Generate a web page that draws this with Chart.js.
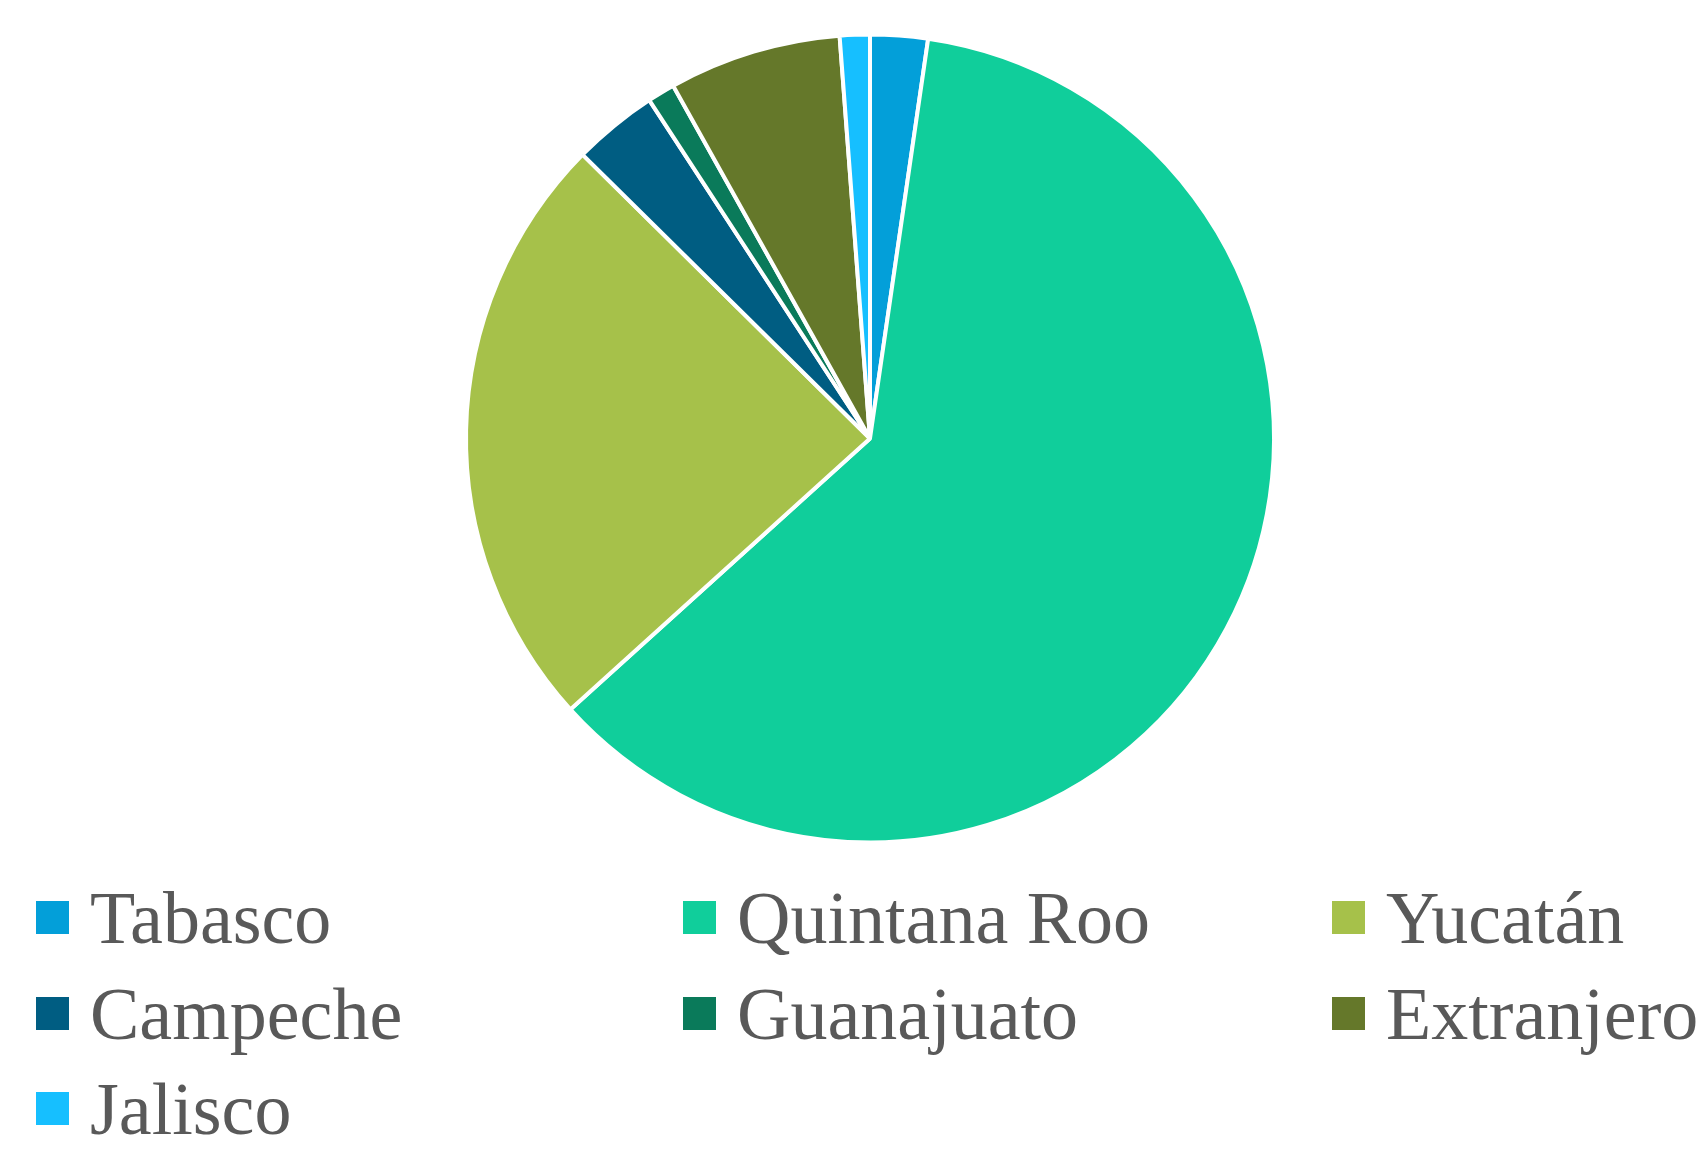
<!DOCTYPE html>
<html>
<head>
<meta charset="utf-8">
<script src="https://cdn.jsdelivr.net/npm/chart.js@4.4.1/dist/chart.umd.min.js"></script>
<style>
  html, body { margin:0; padding:0; background:#fff; }
  body { width:1708px; height:1152px; position:relative; overflow:hidden; }
  #wrap { position:absolute; left:0; top:0; width:1708px; height:880px; }
  #legend { position:absolute; left:36px; top:882px; width:1672px;
    display:grid; grid-template-columns:647px 649px 376px; grid-auto-rows:95.5px; }
  .item { display:flex; align-items:center; height:73px; }
  .sw { width:33px; height:33px; flex:none; margin-right:21px; margin-top:-2px; }
  .lbl { font-family:"Liberation Serif","Times New Roman",serif; font-size:74px; color:#595959; white-space:nowrap; line-height:73px; }
</style>
</head>
<body>
<div id="wrap"><canvas id="pie"></canvas></div>
<div id="legend"></div>
<script>
// share of each origin, % (read clockwise from 12 o'clock)
const ORIGINS = ['Tabasco','Quintana Roo','Yucatán','Campeche','Guanajuato','Extranjero','Jalisco'];
const SHARE   = [2.3, 61.0, 24.1, 3.4, 1.1, 6.9, 1.2];
const COLORS  = ['#039FD9','#10CE9B','#A6C14A','#005D82','#0A7A5A','#65782A','#16BFFF'];

const ctx = document.getElementById('pie').getContext('2d');
const pie = new Chart(ctx, {
  type:'pie',
  data:{ labels:ORIGINS, datasets:[{ data:SHARE, backgroundColor:COLORS, borderColor:'#fff', borderWidth:4 }] },
  options:{
    responsive:true, maintainAspectRatio:false, animation:false,
    layout:{ padding:{ left:32, right:0, top:32.5, bottom:35.5 } },
    plugins:{ legend:{ display:false }, tooltip:{ enabled:false } }
  }
});

// legend in three columns, built from the same arrays
document.getElementById('legend').innerHTML = ORIGINS.map((o,i) =>
  `<div class="item"><span class="sw" style="background:${COLORS[i]}"></span><span class="lbl">${o}</span></div>`
).join('');
</script>
</body>
</html>
